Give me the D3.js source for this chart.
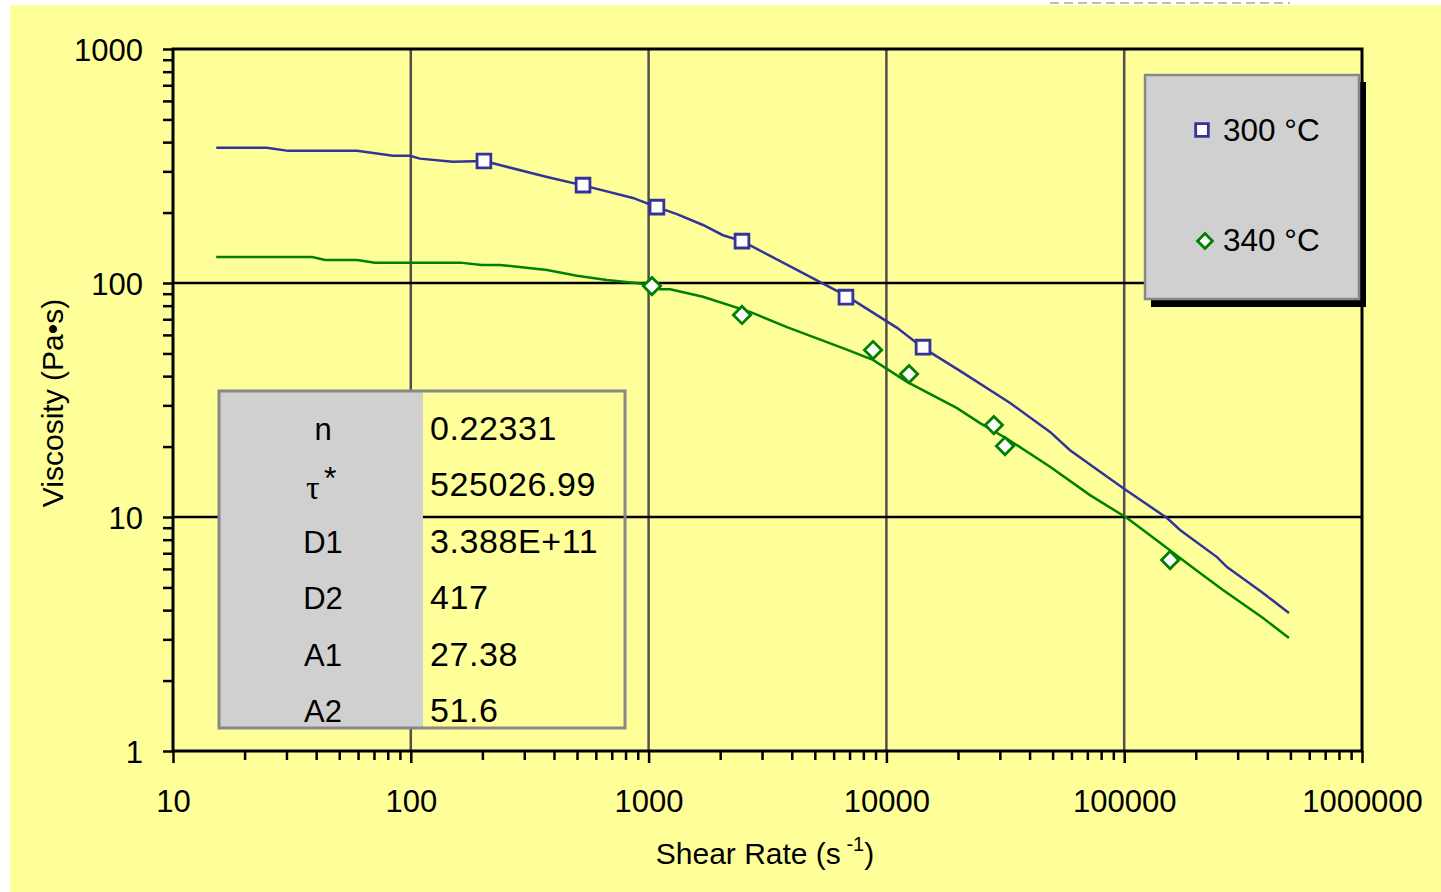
<!DOCTYPE html>
<html>
  <head>
    <meta charset="utf-8">
    <title>Viscosity vs shear rate</title>
    <script src="https://cdn.jsdelivr.net/npm/d3@7"></script>
    <style>
      body { margin: 0; background: #fff; }
      svg { display: block; font-family: "Liberation Sans", Arial, sans-serif; }
      .tick text { font-size: 31px; fill: #000; }
    </style>
  </head>

  <body>
    <svg id="chart" width="1441" height="892"></svg>

    <script>
      // measured points (shear rate, viscosity)
      const rate300 = [203, 530, 1084, 2470, 6760, 14260];
      const visc300 = [332, 262, 211, 151, 87, 53.2];
      const rate340 = [1033, 2470, 8790, 12450, 28300, 31530, 156000];
      const visc340 = [97, 73, 51.7, 40.8, 24.7, 20.1, 6.55];

      // model curves
      const fitRate300 = [15.2, 24.8, 30.5, 59.4, 84.2, 99.3, 109, 150, 203, 374, 525, 859, 1084, 1315, 1693, 2055, 2471,
        6820, 11090, 14270, 20400, 33130, 48770, 59180, 98800, 151400, 171700, 245600, 270600, 383500, 493000];
      const fitVisc300 = [378, 378, 367, 367, 350, 350, 340, 330, 332, 284, 262, 231, 211, 197, 177, 160, 151,
        87.9, 64.3, 52.8, 42.1, 30.7, 23.1, 19.3, 13.3, 9.9, 8.8, 6.74, 6.11, 4.73, 3.89];
      const fitRate340 = [15.2, 38.5, 43.6, 59.4, 70.6, 161, 199, 237, 374, 500, 668, 966, 1117, 1231, 1693, 2670, 3818,
        6564, 8782, 12210, 19820, 24770, 32150, 48770, 71800, 102800, 145600, 171700, 208300, 260300, 383500, 493000];
      const fitVisc340 = [129, 129, 125.4, 125.4, 122.2, 122.2, 119.4, 119.4, 113.6, 107.5, 103, 99, 94.1, 94, 87.4, 75.3, 64.8,
        52.7, 46.9, 37.8, 29.2, 25.2, 21.6, 16.4, 12.4, 9.9, 7.6, 6.68, 5.77, 4.88, 3.70, 3.04];

      const seriesNames = ["300 °C", "340 °C"];
      const seriesColors = ["#333399", "#008000"];

      // parameter table
      const paramNames = ["n", "τ", "D1", "D2", "A1", "A2"];
      const paramValues = ["0.22331", "525026.99", "3.388E+11", "417", "27.38", "51.6"];

      const svg = d3.select("#chart");

      // page background
      svg.append("rect")
        .attr("x", 10).attr("y", 5)
        .attr("width", 1431).attr("height", 887)
        .attr("fill", "#ffff99");
      svg.append("line")
        .attr("x1", 1050).attr("x2", 1290).attr("y1", 3).attr("y2", 3)
        .attr("stroke", "#bbb").attr("stroke-width", 2)
        .attr("stroke-dasharray", "9 5");

      const plotLeft = 173, plotRight = 1362, plotTop = 49, plotBottom = 751;

      const x = d3.scaleLog().domain([10, 1e6]).range([plotLeft, plotRight]);
      const y = d3.scaleLog().domain([1, 1000]).range([plotBottom, plotTop]);

      function logTicks(lo, hi) {
        const t = [];
        for (let p = lo; p < hi; p *= 10) {
          for (let k = 1; k < 10; k++) t.push(p * k);
        }
        t.push(hi);
        return t;
      }
      const isMajor = v => Math.abs(Math.log10(v) - Math.round(Math.log10(v))) < 1e-9;

      // gridlines
      svg.append("g")
        .selectAll("line")
        .data([100, 1000, 10000, 100000])
        .join("line")
          .attr("x1", d => x(d)).attr("x2", d => x(d))
          .attr("y1", plotTop).attr("y2", plotBottom)
          .attr("stroke", "#505050").attr("stroke-width", 2.5);
      svg.append("g")
        .selectAll("line")
        .data([10, 100])
        .join("line")
          .attr("x1", plotLeft).attr("x2", plotRight)
          .attr("y1", d => y(d)).attr("y2", d => y(d))
          .attr("stroke", "#000").attr("stroke-width", 2.5);

      // axes
      const xAxis = svg.append("g")
        .attr("transform", `translate(0,${plotBottom})`)
        .call(d3.axisBottom(x)
          .tickValues(logTicks(10, 1e6))
          .tickFormat(d => isMajor(d) ? d3.format("d")(d) : "")
          .tickSizeOuter(0));
      xAxis.selectAll(".tick line")
        .attr("stroke", "#000").attr("stroke-width", 2.5)
        .attr("y2", d => isMajor(d) ? 12 : 9);
      xAxis.selectAll(".tick text").attr("y", 61).attr("dy", 0);
      xAxis.select(".domain").remove();

      const yAxis = svg.append("g")
        .attr("transform", `translate(${plotLeft},0)`)
        .call(d3.axisLeft(y)
          .tickValues(logTicks(1, 1000))
          .tickFormat(d => isMajor(d) ? d3.format("d")(d) : "")
          .tickSize(10)
          .tickSizeOuter(0));
      yAxis.selectAll(".tick line").attr("stroke", "#000").attr("stroke-width", 2.5);
      yAxis.selectAll(".tick text").attr("x", -30).attr("dy", "0.36em");
      yAxis.select(".domain").remove();
      svg.selectAll("g[font-family]").attr("font-family", null).attr("font-size", null);

      // plot frame
      svg.append("rect")
        .attr("x", plotLeft).attr("y", plotTop)
        .attr("width", plotRight - plotLeft).attr("height", plotBottom - plotTop)
        .attr("fill", "none").attr("stroke", "#000").attr("stroke-width", 3);

      // axis titles
      const xTitle = svg.append("text")
        .attr("x", 765).attr("y", 864)
        .attr("text-anchor", "middle")
        .attr("font-size", 30);
      xTitle.append("tspan").text("Shear Rate (s");
      xTitle.append("tspan").attr("font-size", 20).attr("dy", -13).text(" -1");
      xTitle.append("tspan").attr("dy", 13).text(")");

      svg.append("text")
        .attr("transform", "translate(63,403) rotate(-90)")
        .attr("text-anchor", "middle")
        .attr("font-size", 30)
        .text("Viscosity (Pa•s)");

      // model lines
      const line = d3.line().x(d => x(d[0])).y(d => y(d[1]));
      const fits = [d3.zip(fitRate300, fitVisc300), d3.zip(fitRate340, fitVisc340)];
      svg.append("g")
        .selectAll("path")
        .data(fits)
        .join("path")
          .attr("d", line)
          .attr("fill", "none")
          .attr("stroke", (d, i) => seriesColors[i])
          .attr("stroke-width", 2.5);

      // markers
      const square = d3.symbol().type(d3.symbolSquare).size(190);
      const diamond = d3.symbol().type(d3.symbolSquare).size(150);
      svg.append("g")
        .selectAll("path")
        .data(d3.zip(rate300, visc300))
        .join("path")
          .attr("d", square)
          .attr("transform", d => `translate(${x(d[0])},${y(d[1])})`)
          .attr("fill", "#fff").attr("stroke", seriesColors[0]).attr("stroke-width", 2.8);
      svg.append("g")
        .selectAll("path")
        .data(d3.zip(rate340, visc340))
        .join("path")
          .attr("d", diamond)
          .attr("transform", d => `translate(${x(d[0])},${y(d[1])}) rotate(45)`)
          .attr("fill", "#fff").attr("stroke", seriesColors[1]).attr("stroke-width", 2.8);

      // legend
      const legend = svg.append("g");
      legend.append("rect")
        .attr("x", 1151).attr("y", 82).attr("width", 215).attr("height", 225)
        .attr("fill", "#000");
      legend.append("rect")
        .attr("x", 1145).attr("y", 75).attr("width", 214).attr("height", 224)
        .attr("fill", "#d0d0d0").attr("stroke", "#888").attr("stroke-width", 2.5);
      const legendRows = legend.selectAll(".entry")
        .data(seriesNames)
        .join("g")
          .attr("class", "entry")
          .attr("transform", (d, i) => `translate(0,${130 + i * 110})`);
      legendRows.append("path")
        .attr("d", (d, i) => i === 0 ? d3.symbol().type(d3.symbolSquare).size(160)() : d3.symbol().type(d3.symbolSquare).size(110)())
        .attr("transform", (d, i) => i === 0 ? "translate(1202,0)" : "translate(1205,1) rotate(45)")
        .attr("fill", "#fff")
        .attr("stroke", (d, i) => seriesColors[i]).attr("stroke-width", 2.8);
      legendRows.append("text")
        .attr("x", 1223).attr("y", 11)
        .attr("font-size", 31.5)
        .text(d => d);

      // parameter table
      const table = svg.append("g");
      table.append("rect")
        .attr("x", 219).attr("y", 391).attr("width", 204).attr("height", 337)
        .attr("fill", "#d0d0d0");
      table.append("rect")
        .attr("x", 219).attr("y", 391).attr("width", 406).attr("height", 337)
        .attr("fill", "none").attr("stroke", "#888").attr("stroke-width", 3);
      const rows = table.selectAll(".row")
        .data(d3.zip(paramNames, paramValues))
        .join("g")
          .attr("class", "row")
          .attr("transform", (d, i) => `translate(0,${440 + i * 56.4})`);
      rows.filter(d => d[0] !== "τ")
        .append("text")
          .attr("x", 323)
          .attr("text-anchor", "middle")
          .attr("font-size", 31)
          .text(d => d[0]);
      const tau = rows.filter(d => d[0] === "τ");
      tau.append("text")
        .attr("x", 306).attr("y", 3)
        .attr("font-family", "'Liberation Serif', 'DejaVu Serif', serif")
        .attr("font-size", 34)
        .text(d => d[0]);
      tau.append("text")
        .attr("x", 324).attr("y", -7)
        .attr("font-size", 32)
        .text("*");
      rows.append("text")
        .attr("x", 430)
        .attr("font-size", 34)
        .attr("letter-spacing", 0.6)
        .text(d => d[1]);
    </script>
  </body>
</html>
